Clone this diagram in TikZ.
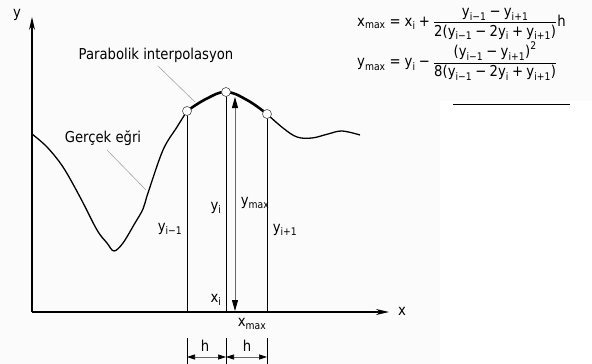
\documentclass[tikz,border=0pt]{standalone}
\usepackage{amsmath}
\usepackage{fontspec}
\setmainfont{DejaVu Sans}[FakeStretch=0.88]
\usetikzlibrary{arrows.meta}
\newcommand\mm{\mathbin{\text{−}}}
\newcommand\pp{\mathbin{\text{+}}}
\newcommand\eq{\mathrel{\text{=}}}
\newcommand\V[2]{\text{#1}_{\text{#2}}}
\definecolor{bg}{HTML}{FBFBFB}
\definecolor{thin}{HTML}{808080}
\tikzset{
  lbl/.style={inner sep=0pt, font=\fontsize{15}{18}\selectfont},
  frm/.style={inner sep=0pt, anchor=west, font=\fontsize{15}{18}\selectfont},
  axis/.style={line width=1.4pt, -{Stealth[length=13pt,width=6pt]}},
  curve/.style={line width=1.3pt, line join=round},
  para/.style={line width=2.6pt, line cap=round},
  guide/.style={thin, line width=0.6pt},
  leader/.style={color=gray!70, line width=0.6pt},
  pt/.style={circle, draw=black!70, fill=white, line width=0.6pt, minimum size=9pt, inner sep=0pt},
  ymaxarrow/.style={color=black!60, line width=0.8pt, {Triangle[length=11pt,width=6pt,color=black,fill=black]}-{Triangle[length=11pt,width=6pt,color=black,fill=black]}},
  dimarrow/.style={color=black!60, line width=0.6pt, {Triangle[length=8pt,width=5pt,color=black,fill=black]}-{Triangle[length=8pt,width=5pt,color=black,fill=black]}}
}
\begin{document}
\begin{tikzpicture}[x=1pt,y=-1pt]
\fill[bg] (0,0) rectangle (592,364);
\fill[white] (440,101) rectangle (592,364);
\useasboundingbox (0,0) rectangle (592,364);

% axes
\coordinate (O) at (32,312);
\coordinate (ytip) at (32,17);
\coordinate (xtip) at (389,312);
\draw[axis] (O) -- (ytip);
\draw[axis] (O) -- (xtip);
\node[lbl] (ylab) at (17,15) {y};
\node[lbl] (xlab) at (402,311) {x};

% sample points
\coordinate (A) at (187,111);
\coordinate (B) at (226,92);
\coordinate (C) at (267,114);
\coordinate (Ax) at (187,312);
\coordinate (Bx) at (226,312);
\coordinate (Cx) at (267,312);

% guides
\draw[guide] (A) -- (Ax);
\draw[guide] (B) -- (Bx);
\draw[guide] (C) -- (Cx);

% real curve
\draw[curve] plot[smooth, tension=0.55] coordinates {(32,134) (47,147) (63,167) (80,197) (97,230) (107,243) (114,251) (123,243) (135,223) (143,209) (148,193) (163,150) (177,127) (187,111)};
\draw[curve] plot[smooth, tension=0.6] coordinates {(267,114) (283,128) (297,137) (312,138) (328,134) (342,131) (360,135)};
% parabola
\draw[para] plot[smooth, tension=0.7] coordinates {(A) (206,99) (B) (247,100) (C)};

% ymax arrow
\coordinate (ymtop) at (235,97);
\coordinate (ymbot) at (235,311);
\draw[ymaxarrow] (ymbot) -- (ymtop);

\node[pt] (pA) at (A) {};
\node[pt] (pB) at (B) {};
\node[pt] (pC) at (C) {};

% labels
\node[lbl] (parab) at (156,55) {Parabolik interpolasyon};
\node[lbl] (gercek) at (103,138) {Gerçek eğri};
\coordinate (pl) at (195,102);
\coordinate (gl) at (146,190);
\draw[leader] (158,66) -- (pl);
\draw[leader] (107,150) -- (gl);

\node[lbl] (lyim) at (170,229) {$\V{y}{i−1}$};
\node[lbl] (lyi) at (216,208) {$\V{y}{i}$};
\node[lbl] (lymax) at (255,203) {$\V{y}{max}$};
\node[lbl] (lyip) at (285,230) {$\V{y}{i+1}$};
\node[lbl] (lxi) at (216,300) {$\V{x}{i}$};
\node[lbl] (lxmax) at (252,324) {$\V{x}{max}$};

% h dimensions
\coordinate (e1t) at (187,338); \coordinate (e1b) at (187,364);
\coordinate (e2t) at (226,338); \coordinate (e2b) at (226,364);
\coordinate (e3t) at (267,338); \coordinate (e3b) at (267,364);
\draw[guide] (e1t) -- (e1b);
\draw[guide] (e2t) -- (e2b);
\draw[guide] (e3t) -- (e3b);
\coordinate (d1) at (187,357); \coordinate (d2) at (226,357); \coordinate (d3) at (267,357);
\draw[dimarrow] (d1) -- (d2);
\draw[dimarrow] (d2) -- (d3);
\node[lbl] (h1) at (205,346) {h};
\node[lbl] (h2) at (247,346) {h};

% formulas
\node[frm] (f1) at (357,24) {$\V{x}{max} \eq \V{x}{i} \pp \dfrac{\V{y}{i−1} \mm \V{y}{i+1}}{\text{2(}\V{y}{i−1} \mm \text{2}\V{y}{i} \pp \V{y}{i+1}\text{)}}\text{h}$};
\node[frm] (f2) at (357,61) {$\V{y}{max} \eq \V{y}{i} \mm \dfrac{\text{(}\V{y}{i−1} \mm \V{y}{i+1}\text{)}^{\text{2}}}{\text{8(}\V{y}{i−1} \mm \text{2}\V{y}{i} \pp \V{y}{i+1}\text{)}}$};
\coordinate (ul1) at (453,104);
\coordinate (ul2) at (570,104);
\draw[line width=0.9pt] (ul1) -- (ul2);
\end{tikzpicture}
\end{document}
